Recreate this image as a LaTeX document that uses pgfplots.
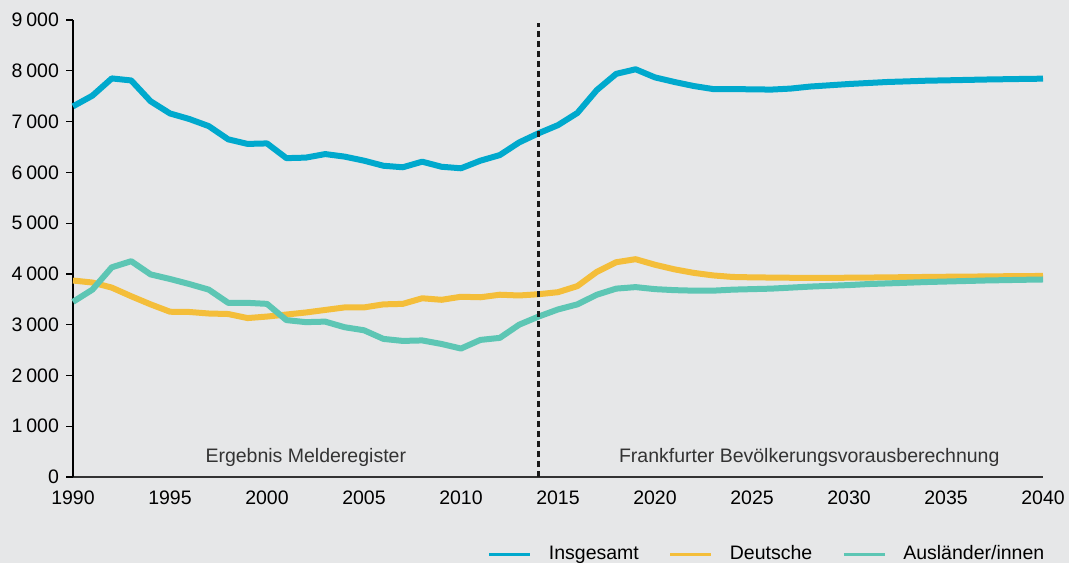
\documentclass[border=0pt]{standalone}
\usepackage{fontspec}
\setmainfont{Liberation Sans}
\usepackage{pgfplots}
\pgfplotsset{compat=1.18}
\definecolor{bg}{HTML}{E6E7E8}
\definecolor{cGes}{HTML}{00A9CD}
\definecolor{cDeu}{HTML}{F4BE3A}
\definecolor{cAus}{HTML}{5DC6B4}
\definecolor{txt}{HTML}{333333}

\begin{document}
\begin{tikzpicture}
\fill[bg] (-36.5pt,-43pt) rectangle (498pt,238.5pt);
\begin{axis}[
  at={(0,0)}, anchor=south west,
  scale only axis,
  width=485pt, height=228.5pt,
  xmin=1990, xmax=2040, ymin=0, ymax=9000,
  clip=false,
  axis lines=left,
  axis line style={-},
  x axis line style={draw=black!80, line width=0.9pt},
  y axis line style={draw=black, line width=0.7pt},
  xtick={1990,1995,...,2040},
  ytick={0,1000,...,9000},
  tick align=outside,
  x tick style={draw=none},
  y tick style={draw=black, line width=0.6pt},
  major tick length=3.5pt,
  tick label style={font=\fontsize{9.75}{11}\selectfont},
  /pgf/number format/assume math mode=true,
  xticklabel style={/pgf/number format/1000 sep={}},
  yticklabel style={/pgf/number format/1000 sep={\kern0.2em}},
  legend style={at={(1.012,-0.169)}, anchor=east, draw=none, fill=none,
    font=\fontsize{9.75}{12}\selectfont,
    /tikz/every odd column/.append style={column sep=6.5pt},
    /tikz/every even column/.append style={column sep=13pt}},
  legend columns=3,
  legend image code/.code={\draw[line width=1.5pt] (0pt,0pt) -- (20.5pt,0pt);},
  every axis plot/.append style={line width=3pt, line join=round},
]
\addplot[cGes] coordinates {
 (1990,7300) (1991,7510) (1992,7850) (1993,7810) (1994,7400) (1995,7160)
 (1996,7050) (1997,6910) (1998,6650) (1999,6560) (2000,6570) (2001,6280)
 (2002,6290) (2003,6360) (2004,6310) (2005,6230) (2006,6130) (2007,6100)
 (2008,6210) (2009,6110) (2010,6080) (2011,6230) (2012,6340) (2013,6590)
 (2014,6770) (2015,6930) (2016,7170) (2017,7620) (2018,7940) (2019,8030)
 (2020,7870) (2021,7780) (2022,7700) (2023,7640) (2024,7640) (2025,7635)
 (2026,7630) (2027,7650) (2028,7690) (2029,7715) (2030,7740) (2031,7760)
 (2032,7780) (2033,7792) (2034,7805) (2035,7812) (2036,7820) (2037,7828)
 (2038,7834) (2039,7840) (2040,7845)
};
\addplot[cDeu] coordinates {
 (1990,3870) (1991,3830) (1992,3730) (1993,3560) (1994,3400) (1995,3255)
 (1996,3250) (1997,3220) (1998,3210) (1999,3130) (2000,3160) (2001,3200)
 (2002,3240) (2003,3290) (2004,3340) (2005,3340) (2006,3400) (2007,3410)
 (2008,3520) (2009,3490) (2010,3550) (2011,3540) (2012,3590) (2013,3575)
 (2014,3600) (2015,3640) (2016,3760) (2017,4040) (2018,4230) (2019,4290)
 (2020,4180) (2021,4090) (2022,4020) (2023,3970) (2024,3940) (2025,3932)
 (2026,3928) (2027,3924) (2028,3920) (2029,3922) (2030,3925) (2031,3928)
 (2032,3932) (2033,3936) (2034,3940) (2035,3944) (2036,3947) (2037,3950)
 (2038,3954) (2039,3957) (2040,3960)
};
\addplot[cAus] coordinates {
 (1990,3450) (1991,3690) (1992,4130) (1993,4250) (1994,3990) (1995,3900)
 (1996,3800) (1997,3690) (1998,3430) (1999,3430) (2000,3410) (2001,3090)
 (2002,3050) (2003,3060) (2004,2950) (2005,2890) (2006,2720) (2007,2680)
 (2008,2690) (2009,2620) (2010,2530) (2011,2700) (2012,2740) (2013,3000)
 (2014,3160) (2015,3300) (2016,3400) (2017,3590) (2018,3710) (2019,3740)
 (2020,3700) (2021,3680) (2022,3670) (2023,3670) (2024,3690) (2025,3700)
 (2026,3710) (2027,3730) (2028,3750) (2029,3765) (2030,3780) (2031,3800)
 (2032,3813) (2033,3826) (2034,3840) (2035,3850) (2036,3860) (2037,3870)
 (2038,3877) (2039,3884) (2040,3890)
};
\legend{Insgesamt, Deutsche, Ausländer/innen}
\addplot[forget plot, line width=1.2pt, draw=black!90, dash pattern=on 3pt off 2pt]
  coordinates {(2014,0) (2014,8950)};
\node[text=txt, font=\fontsize{9.75}{11}\selectfont] at (axis cs:2002,390) {Ergebnis Melderegister};
\node[text=txt, font=\fontsize{9.75}{11}\selectfont] at (axis cs:2027.95,390) {Frankfurter Bevölkerungsvorausberechnung};
\end{axis}
\pgfresetboundingbox
\path (-36.5pt,-43pt) rectangle (498pt,238.5pt);
\end{tikzpicture}
\end{document}
